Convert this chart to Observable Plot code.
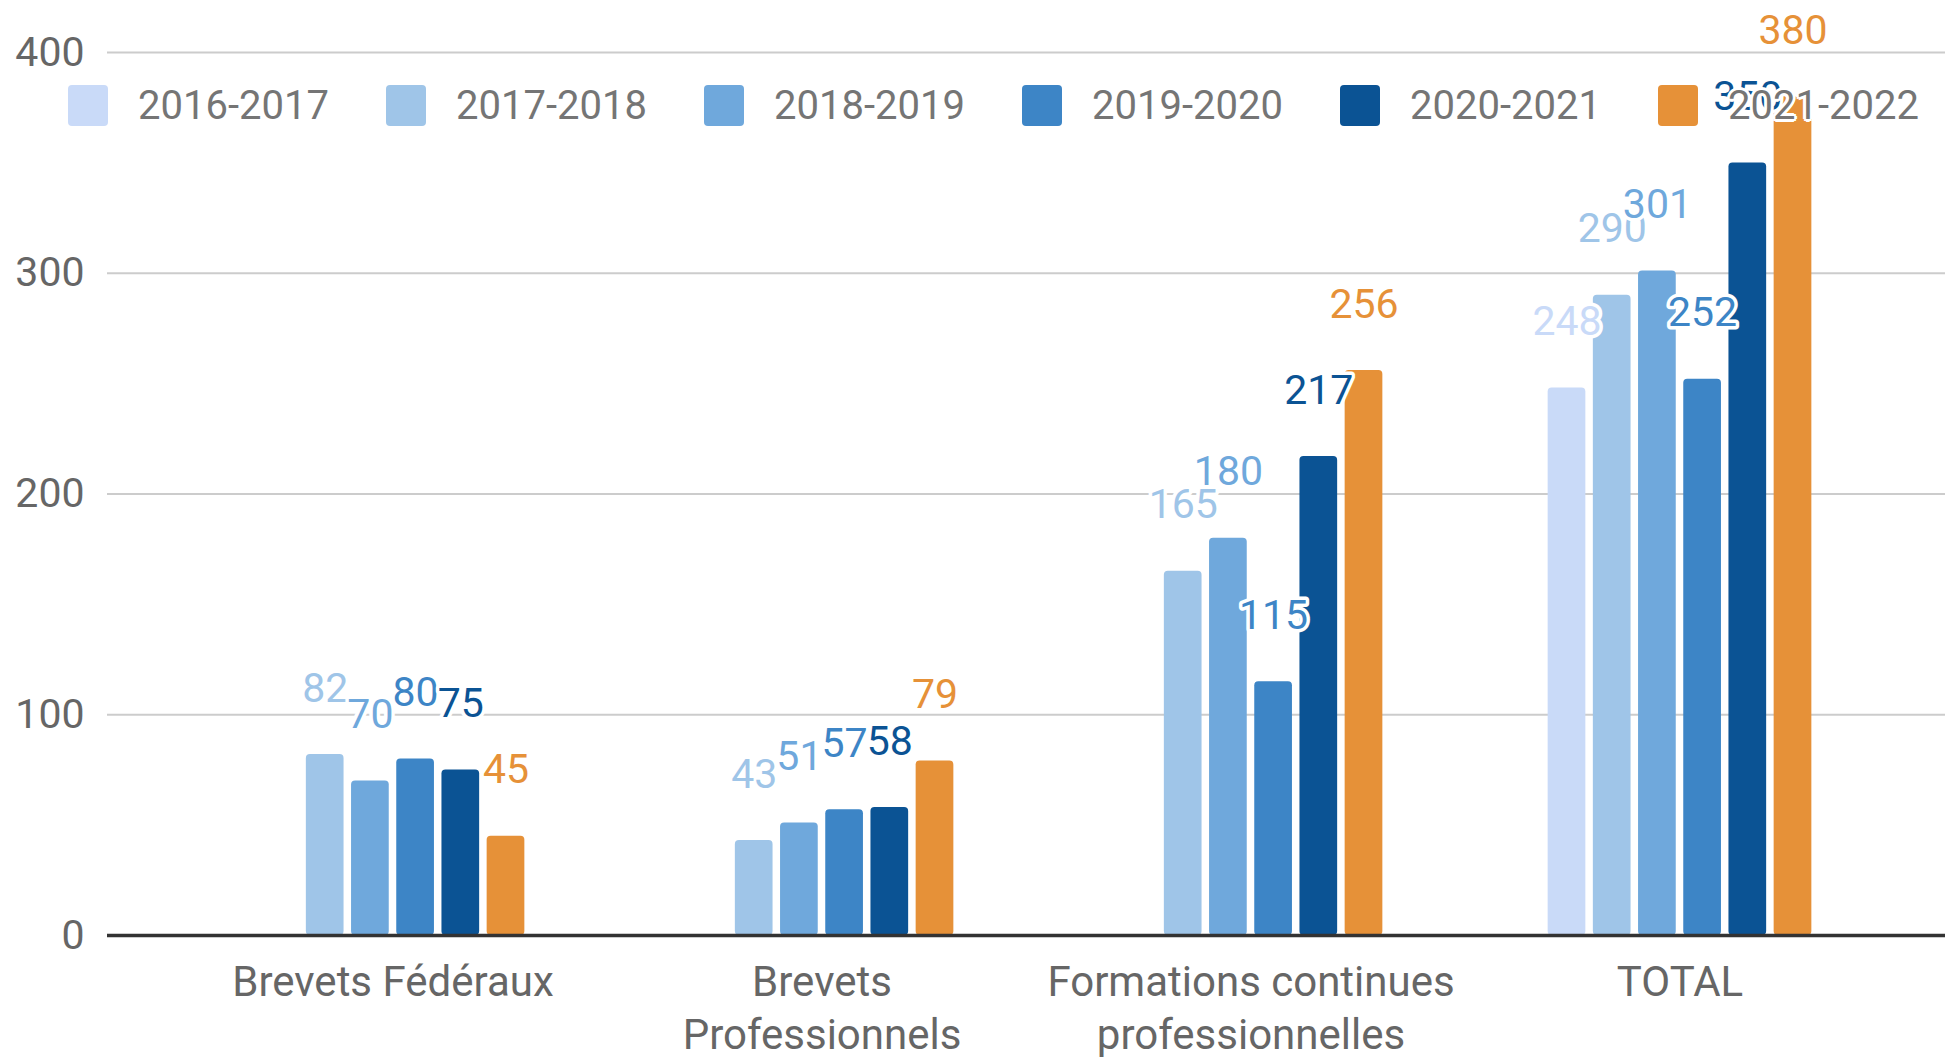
<!DOCTYPE html>
<html>
<head>
<meta charset="utf-8">
<script src="https://cdn.jsdelivr.net/npm/d3@7"></script>
<script src="https://cdn.jsdelivr.net/npm/@observablehq/plot@0.6"></script>
<style>
  html, body { margin: 0; padding: 0; background: #fff; }
  #wrap { position: relative; width: 1945px; height: 1057px; font-family: Roboto, sans-serif; }
  #legend { position: absolute; left: 68px; top: 85px; display: flex; }
  .item { display: flex; align-items: center; width: 318px; }
  .sw { width: 40px; height: 41px; border-radius: 4px; flex: none; }
  .lab { margin-left: 30px; font-size: 40px; line-height: 41px; color: #757575;
    text-shadow: -3px 0 #fff, 3px 0 #fff, 0 -3px #fff, 0 3px #fff, -2px -2px #fff, 2px 2px #fff, -2px 2px #fff, 2px -2px #fff; }
</style>
</head>
<body>
<div id="wrap"></div>
<script>
// ---- data ----
const categories = ["Brevets Fédéraux", "Brevets Professionnels", "Formations continues professionnelles", "TOTAL"];
const tickLabels = ["Brevets Fédéraux", "Brevets\nProfessionnels", "Formations continues\nprofessionnelles", "TOTAL"];
const seriesNames = ["2016-2017", "2017-2018", "2018-2019", "2019-2020", "2020-2021", "2021-2022"];
const seriesColors = ["#c9daf8", "#9fc5e8", "#6fa8dc", "#3d85c6", "#0b5394", "#e69138"];
const values2016_2017 = [null, null, null, 248];
const values2017_2018 = [82, 43, 165, 290];
const values2018_2019 = [70, 51, 180, 301];
const values2019_2020 = [80, 57, 115, 252];
const values2020_2021 = [75, 58, 217, 350];
const values2021_2022 = [45, 79, 256, 380];
const yTicks = [0, 100, 200, 300, 400];

const seriesValues = [values2016_2017, values2017_2018, values2018_2019, values2019_2020, values2020_2021, values2021_2022];
const data = [];
seriesNames.forEach((s, i) => {
  categories.forEach((c, j) => {
    const v = seriesValues[i][j];
    if (v != null) data.push({category: c, series: s, value: v});
  });
});

// ---- layout ----
const W = 1945, H = 1057;
const xRange = [178, 1894];
const band = (xRange[1] - xRange[0]) / categories.length;
const slot = 45.2, barW = 37.7;
const nS = seriesNames.length;
const offset = i => (i - (nS - 1) / 2) * slot;

const marks = [];
marks.push(Plot.ruleY(yTicks.filter(t => t > 0), {stroke: "#cccccc", strokeWidth: 2}));
seriesNames.forEach((s, i) => {
  const c = band / 2 + offset(i);
  marks.push(Plot.barY(data.filter(d => d.series === s), {
    x: "category", y: "value", fill: "series",
    insetLeft: c - barW / 2, insetRight: band - c - barW / 2, rx: 4
  }));
});
marks.push(Plot.ruleY([0], {stroke: "#333333", strokeWidth: 3.5}));
seriesNames.forEach((s, i) => {
  marks.push(Plot.text(data.filter(d => d.series === s), {
    x: "category", y: "value", text: d => String(d.value), fill: "series",
    dx: offset(i), dy: -66, fontSize: 41, stroke: "white", strokeWidth: 7, paintOrder: "stroke"
  }));
});
marks.push(Plot.axisY({ticks: yTicks, tickSize: 0, tickPadding: 23, fontSize: 41, color: "#666666", label: null}));
marks.push(Plot.axisX({tickSize: 0, tickPadding: 24, fontSize: 42, lineHeight: 1.24, color: "#666666", label: null,
  tickFormat: d => tickLabels[categories.indexOf(d)]}));

const chart = Plot.plot({
  width: W, height: H,
  marginLeft: 107, marginRight: 0, marginTop: 52, marginBottom: 122,
  style: {fontFamily: "Roboto, sans-serif", background: "white", overflow: "visible"},
  x: {domain: categories, range: xRange, padding: 0, axis: null},
  y: {domain: [0, 400], axis: null},
  color: {domain: seriesNames, range: seriesColors},
  marks
});

const wrap = document.getElementById("wrap");
wrap.appendChild(chart);

const legend = document.createElement("div");
legend.id = "legend";
seriesNames.forEach((s, i) => {
  const it = document.createElement("div");
  it.className = "item";
  const sw = document.createElement("div");
  sw.className = "sw";
  sw.style.background = seriesColors[i];
  const lb = document.createElement("span");
  lb.className = "lab";
  lb.textContent = s;
  it.appendChild(sw); it.appendChild(lb);
  legend.appendChild(it);
});
wrap.appendChild(legend);
</script>
</body>
</html>
